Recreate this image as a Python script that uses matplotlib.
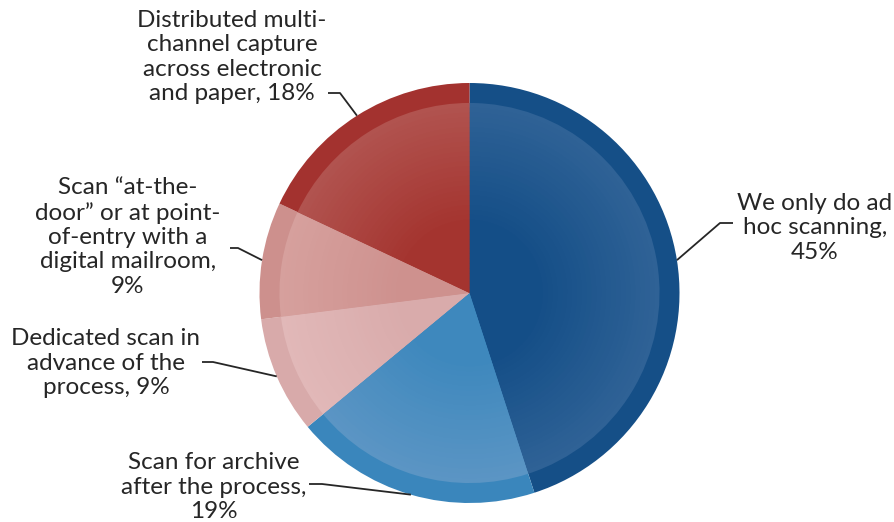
import numpy as np
import matplotlib.pyplot as plt
from matplotlib.colors import to_rgb

# Data
labels = [
    "We only do ad\nhoc scanning,\n45%",
    "Scan for archive\nafter the process,\n19%",
    "Dedicated scan in\nadvance of the\nprocess, 9%",
    "Scan \u201cat-the-\ndoor\u201d or at point-\nof-entry with a\ndigital mailroom,\n9%",
    "Distributed multi-\nchannel capture\nacross electronic\nand paper, 18%",
]
values = [45, 19, 9, 9, 18]

# Styling: rim colour, inner-face colour at the edge, inner-face colour at the centre
rim_colors = ["#154f87", "#3a86bc", "#d8aaaa", "#cd908d", "#a3322f"]
face_edge = ["#2f6296", "#5b95c4", "#e1b8b8", "#d6a09d", "#b1534f"]
face_center = ["#144e87", "#3e88bd", "#d9abab", "#ce918e", "#a4342f"]

# Label placement in pixel coordinates (text centre, elbow on text side, elbow near pie)
label_pos = [(815, 228), (214, 487), (106, 363), (128, 237), (232, 57)]
elbows = [((733, 223), (720, 223)),
          ((309, 484), (322, 484)),
          ((202, 362), (213, 362)),
          ((230, 248), (238, 248)),
          ((328, 93), (340, 93))]

W, H = 895, 522
cx, cy, R = 469.5, 293.0, 210.0

fig = plt.figure(figsize=(W / 100, H / 100), dpi=100)
ax = fig.add_axes([0, 0, 1, 1])

# y axis is inverted, so a clockwise pie in screen terms is drawn counterclockwise here
# with startangle -90 (pointing up on screen).
common = dict(center=(cx, cy), startangle=-90, counterclock=True,
              wedgeprops=dict(linewidth=0))

# Outer rim
ax.pie(values, radius=R, colors=rim_colors, **common)

# Inner face with a radial shading
n_steps = 40
inner_R = R * 0.905
for i in range(n_steps):
    t = i / (n_steps - 1)
    r = inner_R * (1 - t * 0.999)
    k = min(1.0, t * 1.6)
    cols = []
    for e, c in zip(face_edge, face_center):
        e, c = np.array(to_rgb(e)), np.array(to_rgb(c))
        cols.append(tuple(e * (1 - k) + c * k))
    ax.pie(values, radius=r, colors=cols, **common)

ax.set_xlim(0, W)
ax.set_ylim(H, 0)
ax.set_aspect("equal")
ax.axis("off")

# Leader lines and labels
fracs = np.array(values) / np.sum(values)
start = 90.0
for lab, frac, (tx, ty), (p0, p1) in zip(labels, fracs, label_pos, elbows):
    mid = start - frac * 360 / 2
    start -= frac * 360
    ex = cx + R * np.cos(np.radians(mid))
    ey = cy - R * np.sin(np.radians(mid))
    ax.plot([p0[0], p1[0], ex], [p0[1], p1[1], ey], color="#262626",
            lw=1.3, solid_capstyle="butt", zorder=5)
    ax.text(tx, ty, lab, ha="center", va="center", multialignment="center",
            fontsize=17.5, family="Lato", color="#262626", linespacing=1.2)

fig.savefig("out.png", dpi=100)
